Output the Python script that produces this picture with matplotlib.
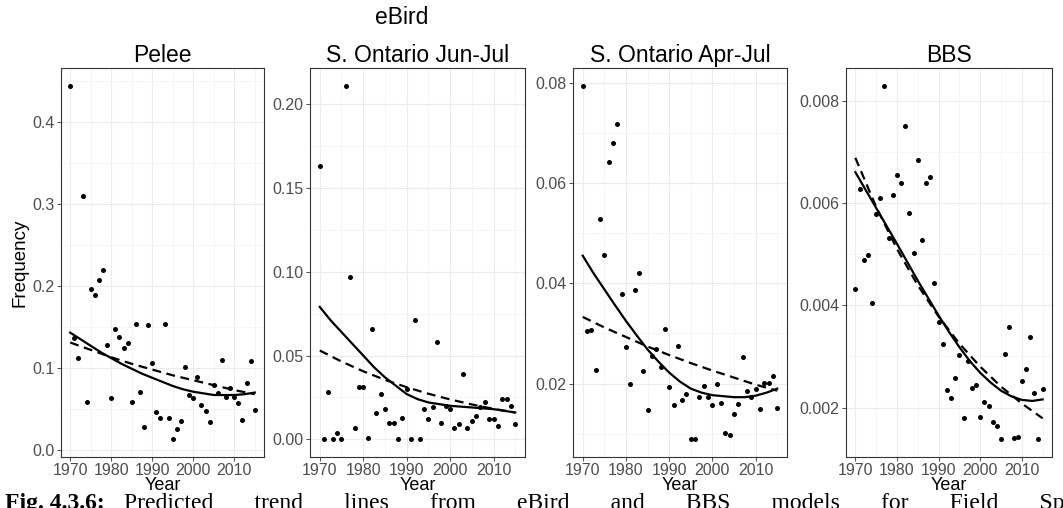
import matplotlib
matplotlib.use("Agg")
import matplotlib.pyplot as plt

plt.rcParams["font.family"] = ["Liberation Sans", "DejaVu Sans"]

years = list(range(1970, 2016))
trend_years = [1970, 1975, 1980, 1985, 1990, 1995, 2000, 2005, 2010, 2015]
smooth_years = [1970, 1972.5, 1975, 1977.5, 1980, 1982.5, 1985, 1987.5, 1990, 1992.5,
                1995, 1997.5, 2000, 2002.5, 2005, 2007.5, 2010, 2012.5, 2015]

# Pelee
pelee_pts = [0.444, 0.137, 0.112, 0.310, 0.059, 0.196, 0.189, 0.207, 0.219, 0.128,
             0.063, 0.147, 0.138, 0.124, 0.130, 0.058, 0.153, 0.071, 0.028, 0.152,
             0.106, 0.046, 0.039, 0.153, 0.039, 0.013, 0.026, 0.035, 0.101, 0.067,
             0.063, 0.089, 0.055, 0.047, 0.034, 0.079, 0.069, 0.110, 0.064, 0.076,
             0.065, 0.057, 0.037, 0.082, 0.108, 0.049]
pelee_solid = [0.143, 0.135, 0.127, 0.119, 0.112, 0.105, 0.099, 0.093, 0.088, 0.083,
               0.078, 0.074, 0.071, 0.069, 0.067, 0.067, 0.067, 0.068, 0.070]
pelee_dash = [0.131, 0.122, 0.113, 0.105, 0.098, 0.091, 0.085, 0.079, 0.073, 0.068]

# S. Ontario Jun-Jul
junjul_pts = [0.163, 0.000, 0.028, 0.000, 0.004, 0.000, 0.211, 0.097, 0.007, 0.031,
              0.031, 0.001, 0.066, 0.016, 0.027, 0.018, 0.010, 0.010, 0.000, 0.013,
              0.030, 0.000, 0.071, 0.000, 0.018, 0.012, 0.019, 0.058, 0.010, 0.020,
              0.018, 0.007, 0.009, 0.039, 0.007, 0.011, 0.014, 0.019, 0.022, 0.012,
              0.012, 0.008, 0.024, 0.024, 0.020, 0.009]
junjul_solid = [0.079, 0.071, 0.064, 0.057, 0.050, 0.043, 0.037, 0.032, 0.027, 0.024,
                0.022, 0.021, 0.020, 0.0195, 0.019, 0.0185, 0.018, 0.017, 0.016]
junjul_dash = [0.053, 0.0464, 0.0406, 0.0355, 0.0311, 0.0272, 0.0238, 0.0208, 0.0182, 0.016]

# S. Ontario Apr-Jul
aprjul_pts = [0.0794, 0.0305, 0.0307, 0.0227, 0.0528, 0.0457, 0.0642, 0.0679, 0.0718, 0.0378,
              0.0274, 0.0199, 0.0386, 0.0421, 0.0226, 0.0148, 0.0256, 0.0270, 0.0234, 0.0309,
              0.0194, 0.0158, 0.0276, 0.0168, 0.0180, 0.0089, 0.0089, 0.0173, 0.0196, 0.0174,
              0.0158, 0.0199, 0.0162, 0.0102, 0.0098, 0.0140, 0.0160, 0.0253, 0.0186, 0.0174,
              0.0190, 0.0149, 0.0201, 0.0202, 0.0215, 0.0152]
aprjul_solid = [0.0455, 0.0420, 0.0388, 0.0356, 0.0325, 0.0296, 0.0268, 0.0244, 0.0222, 0.0204,
                0.0190, 0.0182, 0.0177, 0.0175, 0.0173, 0.0173, 0.0176, 0.0182, 0.0190]
aprjul_dash = [0.0333, 0.0312, 0.0293, 0.0274, 0.0257, 0.0241, 0.0226, 0.0212, 0.0198, 0.0186]

# BBS
bbs_pts = [0.00431, 0.00627, 0.00489, 0.00498, 0.00404, 0.00578, 0.00610, 0.00829, 0.00532, 0.00615,
           0.00654, 0.00638, 0.00750, 0.00580, 0.00502, 0.00684, 0.00528, 0.00638, 0.00651, 0.00443,
           0.00367, 0.00325, 0.00234, 0.00219, 0.00257, 0.00302, 0.00180, 0.00291, 0.00238, 0.00245,
           0.00182, 0.00211, 0.00203, 0.00172, 0.00164, 0.00139, 0.00304, 0.00358, 0.00141, 0.00143,
           0.00252, 0.00275, 0.00337, 0.00229, 0.00138, 0.00237]
bbs_solid = [0.00660, 0.00625, 0.00590, 0.00555, 0.00520, 0.00484, 0.00448, 0.00414, 0.00380, 0.00348,
             0.00318, 0.00291, 0.00268, 0.00249, 0.00233, 0.00222, 0.00215, 0.00213, 0.00216]
bbs_dash = [0.00688, 0.00592, 0.00510, 0.00439, 0.00378, 0.00325, 0.00280, 0.00241, 0.00208, 0.00179]

titles = ["Pelee", "S. Ontario Jun-Jul", "S. Ontario Apr-Jul", "BBS"]
yticks = [[0.0, 0.1, 0.2, 0.3, 0.4],
          [0.00, 0.05, 0.10, 0.15, 0.20],
          [0.02, 0.04, 0.06, 0.08],
          [0.002, 0.004, 0.006, 0.008]]
yfmt = ["{:.1f}", "{:.2f}", "{:.2f}", "{:.3f}"]
panels = [(pelee_pts, pelee_solid, pelee_dash),
          (junjul_pts, junjul_solid, junjul_dash),
          (aprjul_pts, aprjul_solid, aprjul_dash),
          (bbs_pts, bbs_solid, bbs_dash)]

W, H = 1063, 508
fig = plt.figure(figsize=(W / 100, H / 100), dpi=100)
lefts = [61, 310, 573, 846]
rights = [264, 525, 787, 1052]
top, bottom = 68, 457

for i, (pts, solid, dash) in enumerate(panels):
    ax = fig.add_axes([lefts[i] / W, 1 - bottom / H, (rights[i] - lefts[i]) / W, (bottom - top) / H])
    ax.scatter(years, pts, s=13, color="black", zorder=3, linewidths=0)
    ax.plot(smooth_years, solid, color="black", lw=1.6, zorder=4)
    ax.plot(trend_years, dash, color="black", lw=1.6, dashes=(4, 2.5), zorder=4)
    ax.set_xlim(1967.75, 2017.25)
    lo, hi = min(pts), max(pts)
    pad = (hi - lo) * 0.05
    ax.set_xticks([1970, 1980, 1990, 2000, 2010])
    ax.set_xticks([1975, 1985, 1995, 2005, 2015], minor=True)
    yt = yticks[i]
    ax.set_yticks(yt)
    ax.set_yticklabels([yfmt[i].format(v) for v in yt])
    step = yt[1] - yt[0]
    ax.set_yticks([v + step / 2 for v in [yt[0] - step] + yt], minor=True)
    ax.set_ylim(lo - pad, hi + pad)
    ax.grid(which="major", color="#EBEBEB", lw=0.8)
    ax.grid(which="minor", color="#F2F2F2", lw=0.5)
    ax.set_axisbelow(True)
    ax.tick_params(which="major", length=3, width=0.6, color="#333333",
                   labelsize=11.5, labelcolor="#4D4D4D", pad=1.5)
    ax.tick_params(which="minor", length=0)
    for s in ax.spines.values():
        s.set_color("#333333")
        s.set_linewidth(0.8)
    ax.set_title(titles[i], fontsize=16.5, pad=4)
    ax.set_xlabel("Year", fontsize=13, labelpad=-1)
    if i == 0:
        ax.set_ylabel("Frequency", fontsize=13.5, labelpad=3)

fig.text(402 / W, 1 - 17 / H, "eBird", ha="center", va="center", fontsize=16.5)

# caption, cut off by the bottom edge as in the source page
fig.text(5 / W, 1 - 493 / H, "Fig. 4.3.6:", ha="left", va="top", fontsize=17,
         fontweight="bold", family="Liberation Serif")
fig.text(124 / W, 1 - 493 / H,
         "Predicted       trend       lines       from       eBird       and       BBS"
         "       models       for       Field       Sparrow",
         ha="left", va="top", fontsize=17, family="Liberation Serif")

fig.savefig("out.png", dpi=100)
